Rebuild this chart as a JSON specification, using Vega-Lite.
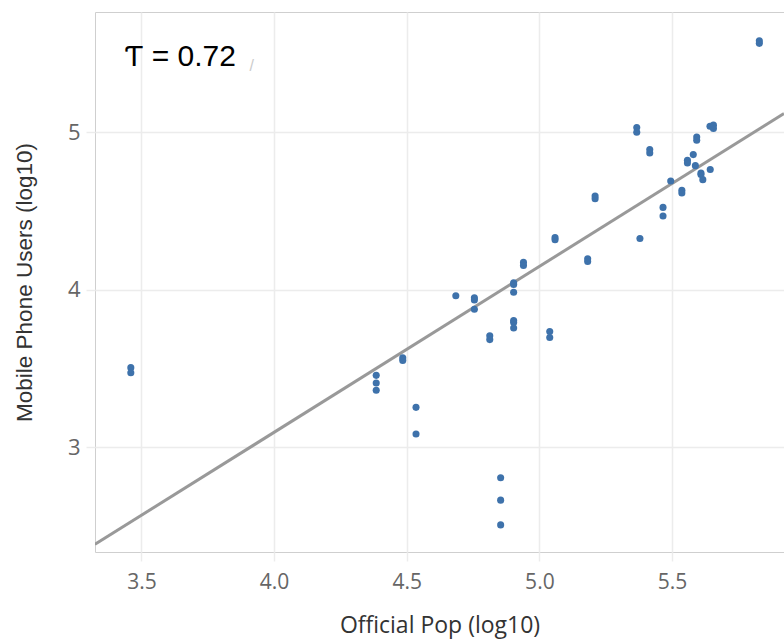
{
  "$schema": "https://vega.github.io/schema/vega-lite/v6.json",
  "autosize": "none",
  "width": 689,
  "height": 540,
  "padding": {"left": 95, "top": 12, "right": 0, "bottom": 88},
  "background": "white",
  "config": {
    "view": {"stroke": "#cfcfcf", "strokeWidth": 1},
    "axis": {
      "domain": false,
      "gridColor": "#ececec",
      "gridWidth": 1.5,
      "tickColor": "#ececec",
      "tickWidth": 1.5,
      "tickSize": 9,
      "labelColor": "#666666",
      "titleColor": "#333333",
      "titleFontWeight": "normal"
    }
  },
  "datasets": {
    "countries": [
      {"pop": 3.460, "users": 3.506},
      {"pop": 3.460, "users": 3.474},
      {"pop": 4.385, "users": 3.457},
      {"pop": 4.385, "users": 3.409},
      {"pop": 4.385, "users": 3.362},
      {"pop": 4.485, "users": 3.568},
      {"pop": 4.485, "users": 3.552},
      {"pop": 4.535, "users": 3.254},
      {"pop": 4.535, "users": 3.085},
      {"pop": 4.685, "users": 3.962},
      {"pop": 4.755, "users": 3.949},
      {"pop": 4.755, "users": 3.936},
      {"pop": 4.755, "users": 3.877},
      {"pop": 4.813, "users": 3.708},
      {"pop": 4.813, "users": 3.684},
      {"pop": 4.854, "users": 2.807},
      {"pop": 4.854, "users": 2.665},
      {"pop": 4.854, "users": 2.508},
      {"pop": 4.903, "users": 4.045},
      {"pop": 4.903, "users": 4.034},
      {"pop": 4.903, "users": 3.985},
      {"pop": 4.903, "users": 3.805},
      {"pop": 4.903, "users": 3.792},
      {"pop": 4.903, "users": 3.758},
      {"pop": 4.940, "users": 4.174},
      {"pop": 4.940, "users": 4.154},
      {"pop": 5.039, "users": 3.735},
      {"pop": 5.039, "users": 3.697},
      {"pop": 5.059, "users": 4.331},
      {"pop": 5.059, "users": 4.318},
      {"pop": 5.182, "users": 4.197},
      {"pop": 5.182, "users": 4.180},
      {"pop": 5.210, "users": 4.595},
      {"pop": 5.210, "users": 4.578},
      {"pop": 5.367, "users": 5.030},
      {"pop": 5.367, "users": 5.000},
      {"pop": 5.379, "users": 4.326},
      {"pop": 5.416, "users": 4.890},
      {"pop": 5.416, "users": 4.868},
      {"pop": 5.466, "users": 4.523},
      {"pop": 5.466, "users": 4.468},
      {"pop": 5.495, "users": 4.690},
      {"pop": 5.537, "users": 4.631},
      {"pop": 5.537, "users": 4.614},
      {"pop": 5.558, "users": 4.822},
      {"pop": 5.558, "users": 4.805},
      {"pop": 5.580, "users": 4.858},
      {"pop": 5.588, "users": 4.788},
      {"pop": 5.593, "users": 4.970},
      {"pop": 5.593, "users": 4.949},
      {"pop": 5.609, "users": 4.741},
      {"pop": 5.609, "users": 4.731},
      {"pop": 5.616, "users": 4.699},
      {"pop": 5.644, "users": 4.763},
      {"pop": 5.643, "users": 5.038},
      {"pop": 5.656, "users": 5.045},
      {"pop": 5.656, "users": 5.024},
      {"pop": 5.829, "users": 5.580},
      {"pop": 5.829, "users": 5.564}
    ],
    "fit": [
      {"pop": 3.325, "users": 2.385},
      {"pop": 5.922, "users": 5.119}
    ],
    "notes": [
      {"pop": 3.438, "users": 5.479, "label": "Ƭ = 0.72", "kind": "stat"},
      {"pop": 3.916, "users": 5.422, "label": "/", "kind": "mark"}
    ]
  },
  "layer": [
    {
      "data": {"name": "fit"},
      "mark": {"type": "line", "color": "#999999", "strokeWidth": 3, "clip": true},
      "encoding": {
        "x": {
          "field": "pop",
          "type": "quantitative",
          "scale": {"domain": [3.325, 5.922], "nice": false, "zero": false},
          "axis": {
            "title": "Official Pop (log10)",
            "values": [3.5, 4.0, 4.5, 5.0, 5.5],
            "format": ".1f",
            "labelFont": "Open Sans",
            "labelFontSize": 21,
            "labelPadding": 10,
            "titleFont": "Open Sans",
            "titleFontSize": 23,
            "titlePadding": 22
          }
        },
        "y": {
          "field": "users",
          "type": "quantitative",
          "scale": {"domain": [2.336, 5.763], "nice": false, "zero": false},
          "axis": {
            "title": "Mobile Phone Users (log10)",
            "values": [3, 4, 5],
            "format": "d",
            "labelFont": "Open Sans",
            "labelFontSize": 22,
            "labelPadding": 6,
            "titleFont": "Liberation Sans",
            "titleFontSize": 22.5,
            "titlePadding": 31
          }
        }
      }
    },
    {
      "data": {"name": "countries"},
      "mark": {"type": "circle", "size": 50, "color": "#3e72ab", "opacity": 1},
      "encoding": {
        "x": {"field": "pop", "type": "quantitative"},
        "y": {"field": "users", "type": "quantitative"}
      }
    },
    {
      "data": {"name": "notes"},
      "transform": [{"filter": "datum.kind == 'stat'"}],
      "mark": {"type": "text", "align": "left", "baseline": "middle", "font": "Liberation Sans", "fontSize": 30, "color": "#000000"},
      "encoding": {
        "x": {"field": "pop", "type": "quantitative"},
        "y": {"field": "users", "type": "quantitative"},
        "text": {"field": "label"}
      }
    },
    {
      "data": {"name": "notes"},
      "transform": [{"filter": "datum.kind == 'mark'"}],
      "mark": {"type": "text", "align": "center", "baseline": "middle", "font": "Liberation Sans", "fontSize": 16, "color": "#cccccc"},
      "encoding": {
        "x": {"field": "pop", "type": "quantitative"},
        "y": {"field": "users", "type": "quantitative"},
        "text": {"field": "label"}
      }
    }
  ]
}
